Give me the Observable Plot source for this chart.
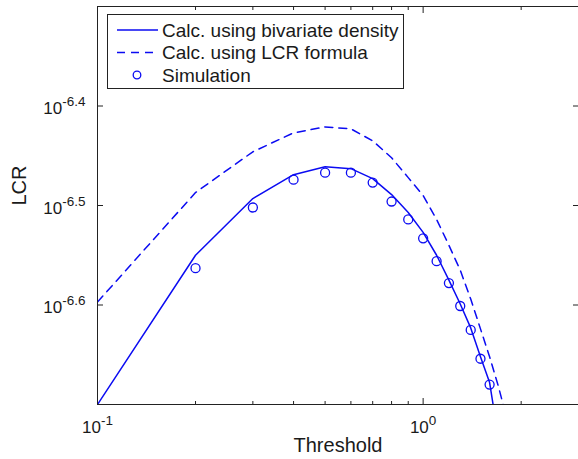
<!DOCTYPE html>
<html><head><meta charset="utf-8">
<script src="https://cdn.jsdelivr.net/npm/d3@7"></script>
<script src="https://cdn.jsdelivr.net/npm/@observablehq/plot@0.6"></script>
<style>
html,body{margin:0;padding:0;background:#fff;}
#chart svg{display:block;}
</style></head><body><div id="chart"></div>
<script>
// ---- data (LCR values stored as base-10 exponents) ----
const bivariateThreshold = [0.1,0.2,0.3,0.4,0.5,0.6,0.7,0.8,0.9,1.0,1.1,1.2,1.3,1.4,1.5,1.6,1.7];
const bivariateExp = [-6.700,-6.550,-6.493,-6.469,-6.461,-6.463,-6.473,-6.489,-6.507,-6.527,-6.550,-6.575,-6.599,-6.623,-6.652,-6.678,-6.732];

const formulaThreshold = [0.1,0.2,0.3,0.4,0.5,0.6,0.7,0.8,0.9,1.0,1.1,1.2,1.3,1.4,1.5,1.6,1.7,1.8];
const formulaExp = [-6.597,-6.487,-6.446,-6.427,-6.421,-6.423,-6.435,-6.452,-6.472,-6.490,-6.514,-6.540,-6.565,-6.594,-6.624,-6.652,-6.681,-6.712];

const simThreshold = [0.2,0.3,0.4,0.5,0.6,0.7,0.8,0.9,1.0,1.1,1.2,1.3,1.4,1.5,1.6];
const simExp = [-6.563,-6.502,-6.474,-6.467,-6.467,-6.477,-6.496,-6.514,-6.533,-6.556,-6.578,-6.601,-6.625,-6.654,-6.680];

const seriesNames = ["Calc. using bivariate density", "Calc. using LCR formula", "Simulation"];

const xMajorTicks = [0.1, 1];
const xMajorLabels = ["-1", "0"];
const xMinorTicks = [0.2,0.3,0.4,0.5,0.6,0.7,0.8,0.9,2,3];
const yTickExponents = [-6.6, -6.5, -6.4];
const yTickLabels = ["-6.6", "-6.5", "-6.4"];
const yDomainExp = [-6.7, -6.3];
const xDomain = [0.1, 3];

// ---- build tables ----
const toRows = (xs, es) => xs.map((x, i) => ({x, y: Math.pow(10, es[i])}));
const bivariate = toRows(bivariateThreshold, bivariateExp);
const formula = toRows(formulaThreshold, formulaExp);
const sim = toRows(simThreshold, simExp);
const yTicks = yTickExponents.map(e => Math.pow(10, e));

const blue = "#0b0bf2";
const axisColor = "#222";
const font = "'Liberation Sans', Arial, Helvetica, sans-serif";
const blank = () => "";

const chart = Plot.plot({
  width: 578, height: 459,
  marginLeft: 97, marginRight: 0, marginTop: 6, marginBottom: 55,
  style: {fontFamily: font, fontSize: "17px", color: "#1a1a1a", background: "white"},
  x: {type: "log", domain: xDomain, axis: null},
  y: {type: "log", domain: yDomainExp.map(e => Math.pow(10, e)), axis: null},
  marks: [
    Plot.line(bivariate, {x: "x", y: "y", stroke: blue, strokeWidth: 1.5, clip: true}),
    Plot.line(formula, {x: "x", y: "y", stroke: blue, strokeWidth: 1.5, strokeDasharray: "8,6", clip: true}),
    Plot.dot(sim, {x: "x", y: "y", r: 4.5, stroke: blue, fill: "none", strokeWidth: 1.3}),
    Plot.frame({stroke: axisColor, strokeWidth: 1}),
    Plot.axisX({ticks: xMajorTicks, anchor: "bottom", tickSize: -6, tickPadding: 22, stroke: axisColor, label: null,
      tickFormat: d => "10|" + xMajorLabels[xMajorTicks.indexOf(d)]}),
    Plot.axisX({ticks: xMinorTicks, anchor: "bottom", tickSize: -3, stroke: axisColor, label: null, tickFormat: blank}),
    Plot.axisX({ticks: xMajorTicks, anchor: "top", tickSize: -6, stroke: axisColor, label: null, tickFormat: blank}),
    Plot.axisX({ticks: xMinorTicks, anchor: "top", tickSize: -3, stroke: axisColor, label: null, tickFormat: blank}),
    Plot.axisY({ticks: yTicks, anchor: "left", tickSize: -6, tickPadding: 18, stroke: axisColor, label: null,
      tickFormat: d => "10|" + yTickLabels[yTicks.indexOf(d)]}),
    Plot.axisY({ticks: yTicks, anchor: "right", tickSize: -6, stroke: axisColor, label: null, tickFormat: blank}),
    Plot.text(["Threshold"], {frameAnchor: "bottom", dy: 47, fontSize: 20, fill: "#1a1a1a"}),
    Plot.text(["LCR"], {frameAnchor: "left", rotate: -90, dx: -78, fontSize: 20, fill: "#1a1a1a"})
  ]
});

document.getElementById("chart").appendChild(chart);

// superscript tick labels
const svg = d3.select(chart);
svg.selectAll('g[aria-label="x-axis tick label"] text, g[aria-label="y-axis tick label"] text').each(function () {
  const t = this.textContent;
  if (!t.includes("|")) return;
  const [base, exp] = t.split("|");
  const sel = d3.select(this);
  const isY = this.parentNode.getAttribute("aria-label").startsWith("y");
  sel.text(null).attr("font-size", 17).attr("fill", "#1a1a1a");
  if (isY) sel.attr("y", "0.47em");
  sel.append("tspan").attr("font-size", 17).text(base);
  sel.append("tspan").attr("dy", -8).attr("font-size", 13.5).text(exp);
});

// legend
const lg = svg.append("g").attr("font-family", font).attr("font-size", 19)
  .attr("fill", "#1a1a1a").attr("text-anchor", "start");
lg.append("rect").attr("x", 107.5).attr("y", 14.5).attr("width", 296).attr("height", 74)
  .attr("fill", "white").attr("stroke", axisColor).attr("stroke-width", 1);
const rowY = [30, 52.5, 75];
lg.append("line").attr("x1", 117).attr("x2", 158).attr("y1", rowY[0]).attr("y2", rowY[0])
  .attr("stroke", blue).attr("stroke-width", 1.5);
lg.append("line").attr("x1", 117).attr("x2", 158).attr("y1", rowY[1]).attr("y2", rowY[1])
  .attr("stroke", blue).attr("stroke-width", 1.5).attr("stroke-dasharray", "8,6");
lg.append("circle").attr("cx", 137).attr("cy", rowY[2]).attr("r", 3.8)
  .attr("fill", "none").attr("stroke", blue).attr("stroke-width", 1.3);
seriesNames.forEach((name, i) => {
  lg.append("text").attr("x", 162).attr("y", rowY[i]).attr("dy", "0.35em")
    .attr("text-anchor", "start").text(name);
});
</script>
</body></html>
